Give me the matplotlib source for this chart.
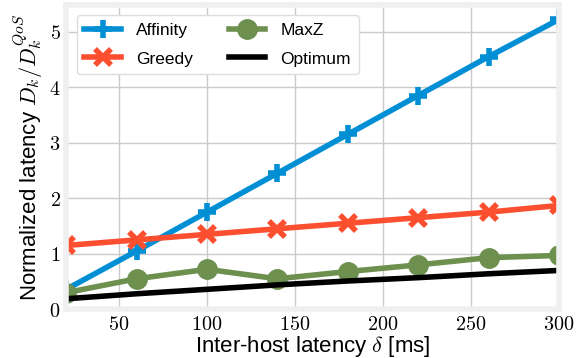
import matplotlib
matplotlib.use("Agg")
import matplotlib.pyplot as plt
from matplotlib.ticker import FuncFormatter

plt.rcParams['mathtext.fontset'] = 'cm'
plt.rcParams['font.family'] = ['Liberation Sans', 'DejaVu Sans']

# data
delta = [20, 60, 100, 140, 180, 220, 260, 300]
affinity = [0.36, 1.05, 1.75, 2.45, 3.15, 3.85, 4.55, 5.22]
greedy = [1.15, 1.25, 1.35, 1.45, 1.55, 1.65, 1.75, 1.87]
maxz = [0.30, 0.55, 0.72, 0.55, 0.68, 0.80, 0.93, 0.97]
optimum = [0.19, 0.28, 0.36, 0.44, 0.51, 0.57, 0.64, 0.70]

fig = plt.figure(figsize=(5.81, 3.58), dpi=100)
ax = fig.add_axes([0.114, 0.136, 0.848, 0.85])

ax.plot(delta, affinity, color='#008fd5', lw=4, marker='+', ms=13, mew=4, label='Affinity')
ax.plot(delta, greedy, color='#fc4f30', lw=4, marker='x', ms=11, mew=4, label='Greedy')
ax.plot(delta, maxz, color='#6d904f', lw=4, marker='o', ms=14, label='MaxZ')
ax.plot(delta, optimum, color='black', lw=4, label='Optimum')

ax.set_xlim(20, 300)
ax.set_ylim(0, 5.48)
ax.set_xticks([50, 100, 150, 200, 250, 300])
ax.set_yticks([0, 1, 2, 3, 4, 5])
fmt = FuncFormatter(lambda v, p: '$%d$' % v)
ax.xaxis.set_major_formatter(fmt)
ax.yaxis.set_major_formatter(fmt)
ax.tick_params(labelsize=14.5, length=0, pad=4)

ax.grid(True, color='#cbcbcb', lw=1)
ax.set_axisbelow(True)
for s in ax.spines.values():
    s.set_color('#f0f0f0')
    s.set_linewidth(4)

ax.set_xlabel(r'Inter-host latency $\delta$ [ms]', fontsize=16, labelpad=0)
ax.set_ylabel(r'Normalized latency $D_k/D_k^{QoS}$', fontsize=16, labelpad=3)

ax.legend(ncol=2, loc='upper left', fontsize=12.5, framealpha=1, edgecolor='#dddddd',
          borderaxespad=0.6, columnspacing=2.1, handlelength=2.1,
          handletextpad=0.85, labelspacing=0.75, borderpad=0.45)

fig.savefig('out.png', dpi=100)
